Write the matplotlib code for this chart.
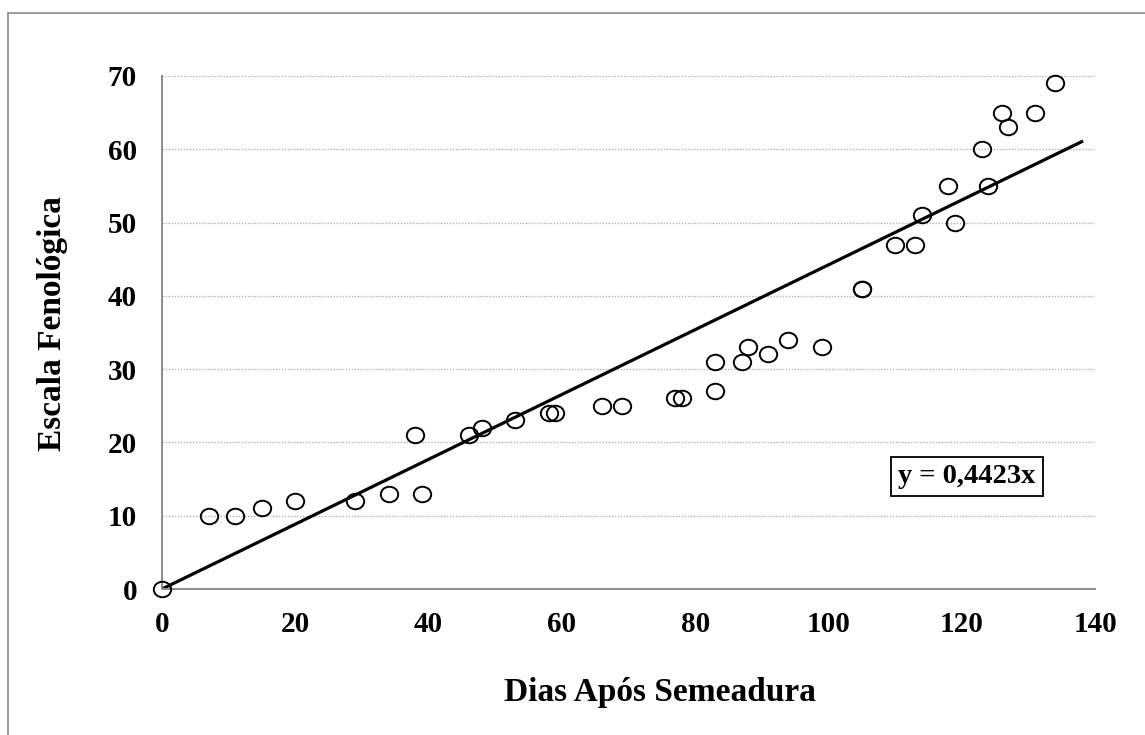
import matplotlib
matplotlib.use('Agg')
import matplotlib.pyplot as plt
import numpy as np
from matplotlib.path import Path
from matplotlib.transforms import Affine2D
from matplotlib.patches import Rectangle

# data
dias = [0, 7, 11, 15, 20, 29, 34, 38, 39, 46, 48, 53, 58, 59, 66, 69, 77, 78,
        83, 83, 87, 88, 91, 94, 99, 105, 105, 110, 113, 114, 118, 119, 123,
        124, 126, 127, 131, 134]
escala = [0, 10, 10, 11, 12, 12, 13, 21, 13, 21, 22, 23, 24, 24, 25, 25, 26, 26,
          27, 31, 31, 33, 32, 34, 33, 41, 41, 47, 47, 51, 55, 50, 60,
          55, 65, 63, 65, 69]
slope = 0.4423
trend_x = [0, 138]
x_ticks = [0, 20, 40, 60, 80, 100, 120, 140]
y_ticks = [0, 10, 20, 30, 40, 50, 60, 70]

plt.rcParams['font.family'] = ['Liberation Serif', 'DejaVu Serif']
plt.rcParams['font.weight'] = 'bold'

fig = plt.figure(figsize=(11.45, 7.35), dpi=100)
ax = fig.add_axes([162/1145, 1 - 589/735, (1095-162)/1145, (589-76)/735])

# outer chart frame (only left and top visible)
fig.patches.append(Rectangle((8/1145, -0.1), 1.2, 1 - 13/735 + 0.1,
                             transform=fig.transFigure, fill=False,
                             edgecolor='#8c8c8c', lw=1.2))

ellipse = Path.unit_circle().transformed(Affine2D().scale(1.12, 1.0))
ax.plot(dias, escala, linestyle='none', marker=ellipse, markersize=12.5,
        markerfacecolor='none', markeredgecolor='black', markeredgewidth=1.4,
        zorder=3, clip_on=False)
tx = np.array(trend_x)
ax.plot(tx, slope * tx, color='black', lw=2.3, zorder=2)

ax.set_xlim(0, 140)
ax.set_ylim(0, 70)
ax.set_xticks(x_ticks)
ax.set_yticks(y_ticks)
ax.tick_params(length=0, labelsize=21, pad=0)
ax.tick_params(axis='y', pad=18)
ax.tick_params(axis='x', pad=16)
for lab in ax.get_xticklabels() + ax.get_yticklabels():
    lab.set_fontweight('bold')

for y in y_ticks[1:]:
    ax.axhline(y, color='#b0b0b0', lw=1.0, linestyle=(0, (1, 1.2)), zorder=1)

for s in ['top', 'right']:
    ax.spines[s].set_visible(False)
for s in ['left', 'bottom']:
    ax.spines[s].set_color('#8c8c8c')
    ax.spines[s].set_linewidth(1.4)

fig.text(660/1145, 1 - 693/735, 'Dias Após Semeadura', ha='center', va='center',
         fontsize=24, fontweight='bold')
fig.text(53/1145, 1 - 324/735, 'Escala Fenológica', ha='center', va='center',
         rotation=90, fontsize=24, fontweight='bold')

ax.text(120.8, 15.3, 'y = 0,4423x', ha='center', va='center', fontsize=20.5,
        fontweight='bold', zorder=4,
        bbox=dict(boxstyle='square,pad=0.25', facecolor='white',
                  edgecolor='black', lw=1.3))

fig.savefig('out.png', dpi=100)
